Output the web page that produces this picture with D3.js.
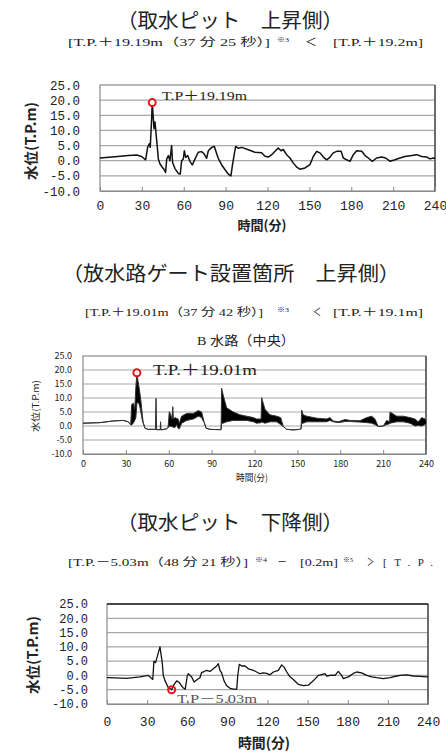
<!DOCTYPE html>
<html><head><meta charset="utf-8">
<script src="https://cdn.jsdelivr.net/npm/d3@7"></script>
<style>body{margin:0;background:#fff;} svg{display:block}</style>
</head><body>
<svg id="c" width="446" height="755"></svg>
<script>
// ---------- data ----------
const xTicks = [0,30,60,90,120,150,180,210,240];
const yTicks = [-10,-5,0,5,10,15,20,25];

// 取水ピット 上昇側
const time1 = [0,10.7,20.3,26.3,29.8,32.7,34.1,35.3,36,37,37.42,38.7,39.4,40.6,41.8,43,44.2,45.8,47,47.8,49,50.1,51.3,52,53.7,56.1,57.5,58.5,59.7,60.4,61.4,62.8,64.5,66.1,68.1,70.4,72.8,74.7,76.4,77.6,80,81.9,82.9,84.7,87.2,89.6,91.9,93.8,95,96.2,97.2,99.1,101.5,106.3,111,115.8,118.2,120.6,123,125.4,127.7,129.7,131.3,133.7,136.1,138.5,140.9,143.3,146.9,150.4,152.8,155.2,157.6,160,162.4,164.8,167.1,169.6,172.7,174.3,176.7,179.1,181.5,183.9,187.5,189.9,192.2,195.1,198.2,201.8,204.7,207.8,211.3,214.9,218.5,223.3,226.9,230.5,234.1,236.5,238.9,240];
const level1 = [0.9,1.3,1.7,1.9,1.4,0.3,4.4,5.6,4.4,13.9,19.19,10.6,12.8,6.7,0.6,-1.1,-1.9,-2.8,-3.9,0.6,1.7,0,5,-0.6,-2.6,-4.2,-4.4,0,0.6,3.3,1.1,1.7,-0.3,-1.4,0.6,2.8,3.0,2.2,0.8,3.3,4.4,4.7,3.3,0.8,-1.4,-3.0,-4.4,-5.0,-1.1,2.2,4.7,4.1,4.4,3.6,2.8,2.6,1.5,1.2,2.0,3.1,4.2,3.3,3.7,2.0,0.9,-0.8,-2.1,-2.8,-2.4,-1.3,1.4,3.1,2.6,1.2,0.3,1.2,2.6,3.1,3.1,0.9,0.3,-0.2,2.0,3.3,3.1,1.7,0.9,-0.2,0.9,1.2,0.9,-0.2,0.3,0.9,1.4,1.7,2.0,1.4,1.2,0.6,0.9,0.8];

// 放水路ゲート設置箇所 上昇側 (B水路 中央): lower / upper envelope of oscillation
const time2 = [0,11.9,21.2,28.2,31.7,33.4,34.0,35.2,36.2,37.0,37.7,38.5,39.5,40.5,41.5,42.2,43.4,45.7,49.2,50.7,51.1,51.5,54.0,54.3,54.6,58.5,59.5,60.4,61.4,62.3,62.8,63.3,64.4,65.6,66.5,67.4,69.0,72.6,77.2,80.7,83.0,84.0,84.7,86.1,88.9,94.7,96.6,97.0,98.1,100.5,105.2,109.8,114.5,119.2,121.5,124.6,125.0,127.3,130.8,135.5,138.3,140.2,142.5,147.2,151.4,152.6,153.0,154.0,156.5,163.5,170.5,172.8,175.1,178.6,183.3,186.8,193.8,198.5,202.0,204.3,206.6,210.1,212.5,214.5,214.8,219.5,224.1,228.8,232.3,234.6,237.0,239.3,240];
const low2  = [1.0,1.2,1.8,2.0,1.5,0.4,0.4,1.0,2.0,3.0,8.0,8.5,7.5,5.0,2.0,1.0,-0.8,-1.2,-1.2,-1.2,-1.2,-1.3,-1.3,-1.3,-1.4,-1.0,-0.5,-0.2,0.0,-0.3,-0.3,-0.5,-0.5,0.5,-0.8,-1.0,1.0,2.0,2.5,3.5,3.0,1.8,1.5,-0.8,-1.2,-1.3,-1.3,1.0,1.0,1.5,2.0,2.0,2.0,1.5,1.0,1.2,1.5,1.0,1.5,1.5,0.5,-0.2,-1.2,-1.4,-1.2,-1.0,1.0,1.0,1.5,1.5,1.5,2.0,1.5,1.2,1.6,1.6,1.4,1.2,1.0,0.5,-0.2,0.0,0.5,0.8,1.0,1.5,1.5,1.0,0.0,0.2,0.0,0.5,0.8];
const high2 = [1.0,1.2,1.8,2.0,1.5,0.4,7.5,8.2,6.0,14.0,19.01,16.0,13.0,9.0,4.0,1.0,-0.8,-1.2,-1.2,-1.2,9.9,-1.3,-1.3,1.5,-1.4,-1.0,-0.5,5.1,4.0,2.5,6.9,2.5,3.0,2.7,2.5,1.0,3.5,4.5,4.5,5.5,5.0,3.0,1.5,-0.8,-1.2,-1.3,-1.3,13.5,11.0,6.5,5.0,4.0,3.5,3.0,2.5,2.5,10.1,6.0,4.0,3.5,3.0,-0.2,-1.2,-1.4,-1.2,-1.0,5.7,4.0,3.5,2.8,2.5,3.0,1.8,1.5,2.3,2.0,1.9,3.0,3.5,2.5,-0.2,0.0,2.0,1.5,5.0,3.5,3.5,3.0,2.5,1.5,3.0,2.5,2.0];

// 取水ピット 下降側
const time3 = [0,1,14.7,24.7,30.7,32.1,34.2,35.1,36.3,37.1,39.6,41.3,42.1,43.4,45.8,48.35,49.6,52.1,54.1,56.6,58.5,60,60.8,62,63.3,65.1,67.5,69.5,70.8,72,74.5,77,79.5,82,83.2,84.5,85.7,87.5,89.5,92,94.5,97,97.7,98.9,100.7,103.2,105.7,109.4,114.4,116.9,119.4,121.9,124.4,128.1,130.6,132.4,134.4,136.8,139.3,143,146.8,150.5,154.2,158,160.5,163,164.3,168,170.5,172.9,175.4,176.7,180.4,184.2,186.7,190.4,194.2,197.9,201.6,206.6,211.6,216.6,220.3,224.1,229,234,238.5,240];
const level3 = [-0.8,-0.8,-1.0,-0.5,0,-0.5,-1.4,5.0,4.5,5.8,10,4.5,0,-1.9,-4.2,-5.03,-3.6,-1.9,-2.5,-4.2,-4.8,-0.2,0.6,0,-0.5,-2.3,-1.4,-0.8,1.1,1.2,1.8,1.4,2.3,3.3,4.1,1.8,0.9,-1.9,-3.6,-4.5,-4.8,-4.8,-0.2,3.9,3.3,3.3,2.3,1.8,0.6,0.9,0.7,0.2,1.2,1.8,3.7,2.9,1.2,-0.5,-1.4,-3.1,-3.6,-3.4,-1.9,0,0.3,0.6,-0.2,0.1,0,1.4,0,-1.1,-0.5,0.7,1.2,0.9,0,-0.5,-0.8,-1.1,-0.8,-0.2,0.1,0.2,-0.2,-0.3,-0.5,-0.4];

const peakTimes = [37.42, 37.7, 48.35];
const peakValues = [19.19, 19.01, -5.03];
const peakLabels = ["T.P＋19.19m", "T.P.＋19.01m", "T.P－5.03m"];

// ---------- drawing ----------
const svg = d3.select("#c");
svg.append("rect").attr("width",446).attr("height",755).attr("fill","#fff");
const SERIF = "'Liberation Serif','DejaVu Serif','Noto Sans CJK JP',serif";
const GOTH = "'Noto Sans CJK JP','Liberation Sans',sans-serif";
const MONO = "'Liberation Mono','DejaVu Sans Mono',monospace";

function txt(x,y,s,o={}) {
  const t = svg.append("text").attr("x",x).attr("y",y).text(s)
    .attr("font-family",o.family||SERIF).attr("font-size",o.size||11)
    .attr("fill",o.fill||"#222").attr("text-anchor",o.anchor||"start");
  if (o.len) t.attr("textLength",o.len).attr("lengthAdjust",o.adj||"spacingAndGlyphs");
  if (o.weight) t.attr("font-weight",o.weight);
  return t;
}

function chart(c) {
  const x = d3.scaleLinear().domain([0,240]).range([c.x0,c.x1]);
  const y = d3.scaleLinear().domain([-10,25]).range([c.y1,c.y0]);
  const g = svg.append("g");
  g.selectAll("line.grid").data(yTicks.filter(v=>v>-10&&v<25)).join("line")
    .attr("x1",c.x0).attr("x2",c.x1).attr("y1",d=>y(d)).attr("y2",d=>y(d))
    .attr("stroke","#a8a8a8").attr("stroke-width",1.2);
  g.append("rect").attr("x",c.x0).attr("y",c.y0).attr("width",c.x1-c.x0).attr("height",c.y1-c.y0)
    .attr("fill","none").attr("stroke","#8a8a8a").attr("stroke-width",1.2);
  g.append("line").attr("x1",c.x1).attr("x2",c.x1).attr("y1",c.y0).attr("y2",c.y1).attr("stroke","#555").attr("stroke-width",1.5);
  if (c.topDark) g.append("line").attr("x1",c.x0).attr("x2",c.x1).attr("y1",c.y0).attr("y2",c.y0).attr("stroke","#222").attr("stroke-width",1.5);
  const ax = g.append("g").attr("transform",`translate(0,${c.y1})`)
    .call(d3.axisBottom(x).tickValues(xTicks).tickSize(-4).tickPadding(c.xPad).tickFormat(d3.format("d")));
  ax.select(".domain").attr("stroke","#8a8a8a");
  ax.selectAll(".tick line").attr("stroke","#888");
  ax.selectAll("text").attr("font-family",c.family).attr("font-size",c.xfs).attr("fill","#222");
  const ay = g.append("g").attr("transform",`translate(${c.x0},0)`)
    .call(d3.axisLeft(y).tickValues(yTicks).tickSize(0).tickPadding(c.yPad).tickFormat(v=>v.toFixed(1)));
  ay.select(".domain").remove();
  ay.selectAll("text").attr("font-family",c.family).attr("font-size",c.yfs).attr("fill","#222");
  return {x,y,g};
}

// ===== Chart 1 =====
txt(230,28,"（取水ピット　上昇側）",{size:20,anchor:"middle",len:226});
txt(68,46,"[T.P.＋19.19m（37 分 25 秒）]",{size:11,len:202});
txt(277,42,"※3",{size:7,len:12});
txt(305,46,"＜",{size:11,len:12});
txt(333,46,"[T.P.＋19.2m]",{size:11,len:90});
{
  const c = chart({x0:100,x1:435,y0:85,y1:191,xfs:13,yfs:12.5,family:MONO,xPad:10,yPad:20});
  c.g.append("path").datum(time1.map((t,i)=>[t,level1[i]]))
    .attr("d",d3.line().x(d=>c.x(d[0])).y(d=>c.y(d[1])))
    .attr("fill","none").attr("stroke","#111").attr("stroke-width",1.5).attr("stroke-linejoin","round");
  c.g.append("circle").attr("cx",c.x(peakTimes[0])).attr("cy",c.y(peakValues[0])).attr("r",3.5)
    .attr("fill","#fff").attr("stroke","#e8141c").attr("stroke-width",2);
  txt(162,100,peakLabels[0],{size:13,len:85});
  txt(31,141,"水位(T.P.m)",{size:14,family:GOTH,weight:"bold",anchor:"middle",len:78}).attr("transform","rotate(-90,31,141)").attr("dy","0.35em");
  txt(262,230,"時間(分)",{size:13,family:GOTH,weight:"bold",anchor:"middle",len:49});
}

// ===== Chart 2 =====
txt(231,281,"（放水路ゲート設置箇所　上昇側）",{size:20,anchor:"middle",len:338});
txt(85,316,"[T.P.＋19.01m（37 分 42 秒）]",{size:11,len:178});
txt(277,312,"※3",{size:7,len:12});
txt(313,316,"＜",{size:11,len:8});
txt(333,316,"[T.P.＋19.1m]",{size:11,len:90});
txt(246,345,"B 水路（中央）",{size:13,anchor:"middle",len:98});
{
  const c = chart({x0:83,x1:426,y0:356,y1:454,xfs:9,yfs:9,family:GOTH,xPad:7,yPad:11});
  const pts = time2.map((t,i)=>[t,low2[i],high2[i]]);
  c.g.append("path").datum(pts)
    .attr("d",d3.area().x(d=>c.x(d[0])).y0(d=>c.y(d[1])).y1(d=>c.y(d[2])))
    .attr("fill","#000");
  [1,2].forEach(k=>{
    c.g.append("path").datum(pts)
      .attr("d",d3.line().x(d=>c.x(d[0])).y(d=>c.y(d[k])))
      .attr("fill","none").attr("stroke","#333").attr("stroke-width",1);
  });
  c.g.append("circle").attr("cx",c.x(peakTimes[1])).attr("cy",c.y(peakValues[1])).attr("r",3.5)
    .attr("fill","#fff").attr("stroke","#e8141c").attr("stroke-width",2);
  txt(153,375,peakLabels[1],{size:15,len:104});
  txt(36,406,"水位(T.P.m)",{size:9,family:GOTH,anchor:"middle",len:52}).attr("transform","rotate(-90,36,406)").attr("dy","0.35em");
  txt(252,481,"時間(分)",{size:9.5,family:GOTH,anchor:"middle",len:32});
}

// ===== Chart 3 =====
txt(230,530,"（取水ピット　下降側）",{size:20,anchor:"middle",len:226});
txt(68,566,"[T.P.－5.03m（48 分 21 秒）]",{size:11,len:180});
txt(255,562,"※4",{size:7,len:12});
txt(277,566,"－",{size:11,len:10});
txt(300,566,"[0.2m]",{size:11,len:38});
txt(343,562,"※5",{size:7,len:10});
txt(367,566,"＞",{size:11,len:7});
txt(383,566,"[T.P.",{size:11,len:50,adj:"spacing"});
{
  const c = chart({x0:107,x1:428,y0:604,y1:704,xfs:13,yfs:12,family:MONO,xPad:13,yPad:19,topDark:true});
  c.g.append("path").datum(time3.map((t,i)=>[t,level3[i]]))
    .attr("d",d3.line().x(d=>c.x(d[0])).y(d=>c.y(d[1])))
    .attr("fill","none").attr("stroke","#111").attr("stroke-width",1.3).attr("stroke-linejoin","round");
  c.g.append("circle").attr("cx",c.x(peakTimes[2])).attr("cy",c.y(peakValues[2])).attr("r",3.5)
    .attr("fill","none").attr("stroke","#e8141c").attr("stroke-width",2);
  txt(177,703,peakLabels[2],{size:12,len:80,fill:"#555"});
  txt(33,655,"水位(T.P.m)",{size:14,family:GOTH,weight:"bold",anchor:"middle",len:78}).attr("transform","rotate(-90,33,655)").attr("dy","0.35em");
  txt(264,748,"時間(分)",{size:14,family:GOTH,weight:"bold",anchor:"middle",len:52});
}
</script>
</body></html>
